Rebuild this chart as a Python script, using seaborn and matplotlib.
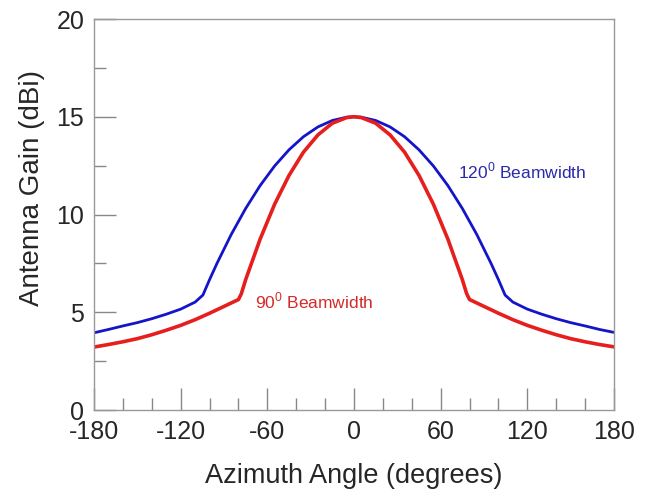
import matplotlib
matplotlib.use("Agg")
import matplotlib.pyplot as plt
from matplotlib.ticker import MultipleLocator
import seaborn as sns

# 120 degree beamwidth pattern
angles_120 = [-180, -170, -160, -150, -140, -130, -120, -110, -104.6, -100, -95, -85, -75,
              -65, -55, -45, -35, -25, -15, -5, 0, 5, 15, 25, 35, 45, 55, 65, 75, 85, 95,
              100, 104.6, 110, 120, 130, 140, 150, 160, 170, 180]
gain_120 = [3.95, 4.12, 4.30, 4.47, 4.67, 4.90, 5.16, 5.52, 5.88, 6.67, 7.48, 8.98, 10.31,
            11.48, 12.48, 13.31, 13.98, 14.48, 14.81, 14.98, 15.00, 14.98, 14.81, 14.48,
            13.98, 13.31, 12.48, 11.48, 10.31, 8.98, 7.48, 6.67, 5.88, 5.52, 5.16, 4.90,
            4.67, 4.47, 4.30, 4.12, 3.97]

# 90 degree beamwidth pattern
angles_90 = [-180, -170, -160, -150, -140, -130, -120, -110, -100, -90, -80, -78, -75, -65,
             -55, -45, -35, -25, -15, -5, 0, 5, 15, 25, 35, 45, 55, 65, 75, 78, 80, 90, 100,
             110, 120, 130, 140, 150, 160, 170, 180]
gain_90 = [3.22, 3.35, 3.49, 3.65, 3.85, 4.08, 4.33, 4.62, 4.95, 5.30, 5.65, 5.95, 6.67,
           8.74, 10.52, 12.00, 13.19, 14.07, 14.67, 14.96, 15.00, 14.96, 14.67, 14.07,
           13.19, 12.00, 10.52, 8.74, 6.67, 5.95, 5.65, 5.30, 4.95, 4.62, 4.33, 4.08,
           3.85, 3.65, 3.49, 3.35, 3.23]

x_ticks = [-180, -120, -60, 0, 60, 120, 180]
y_ticks = [0, 5, 10, 15, 20]

sns.set_style("white")
plt.rcParams["font.family"] = ["Liberation Sans", "DejaVu Sans"]
plt.rcParams["mathtext.fontset"] = "custom"
plt.rcParams["mathtext.rm"] = "Liberation Sans"
plt.rcParams["axes.unicode_minus"] = False

fig = plt.figure(figsize=(6.52, 4.98), dpi=100)
ax = fig.add_axes([0.1442, 0.1767, 0.7975, 0.7851])

sns.lineplot(x=angles_120, y=gain_120, color="#1414c8", linewidth=2.0, ax=ax)
sns.lineplot(x=angles_90, y=gain_90, color="#e61e1e", linewidth=2.6, ax=ax)

ax.text(72, 12.2, r"120$^{\mathregular{0}}$ Beamwidth", color="#2a2aa8", fontsize=12.5,
        va="center", ha="left")
ax.text(-68.5, 5.55, r"90$^{\mathregular{0}}$ Beamwidth", color="#d42a2a", fontsize=12.5,
        va="center", ha="left")

ax.set_xlim(-180, 180)
ax.set_ylim(0, 20)
ax.set_xticks(x_ticks)
ax.set_yticks(y_ticks)
ax.xaxis.set_minor_locator(MultipleLocator(20))
ax.yaxis.set_minor_locator(MultipleLocator(2.5))
ax.tick_params(which="major", direction="in", length=16, width=1, color="#888888",
               labelsize=18, pad=7, top=False, right=False, bottom=True, left=True)
ax.tick_params(which="minor", direction="in", length=8.5, width=1, color="#888888",
               top=False, right=False, bottom=True, left=True)
for sp in ax.spines.values():
    sp.set_color("#999999")
    sp.set_linewidth(1)

ax.set_xlabel("Azimuth Angle (degrees)", fontsize=19.5)
ax.set_ylabel("Antenna Gain (dBi)", fontsize=20)
ax.xaxis.set_label_coords(0.5, -0.135)
ax.yaxis.set_label_coords(-0.095, 0.567)

fig.savefig("out.png", dpi=100)
